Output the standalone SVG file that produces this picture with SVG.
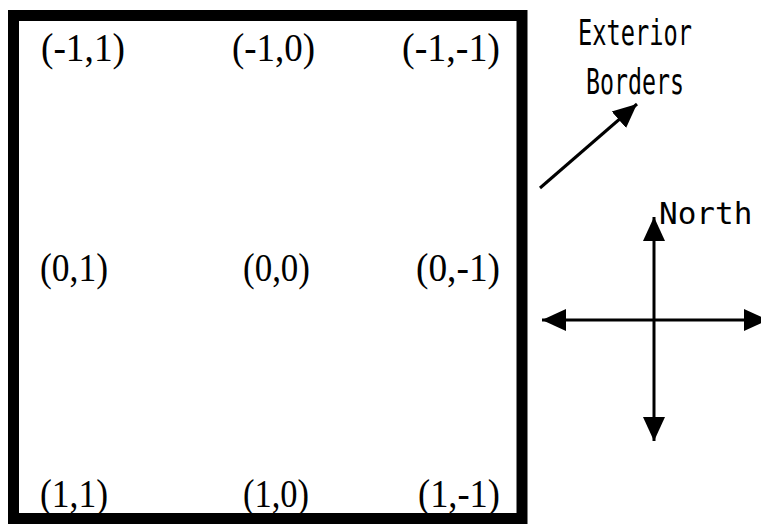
<svg xmlns="http://www.w3.org/2000/svg" width="761" height="527" viewBox="0 0 761 527">
<defs>
<marker id="ah" markerUnits="userSpaceOnUse" markerWidth="26" markerHeight="24" refX="24" refY="12" orient="auto">
<path d="M0,1 L24,12 L0,23 Z" fill="#000"/>
</marker>
</defs>
<style>
.coord{font-family:"Liberation Serif","Times New Roman",serif;font-size:40px;fill:#000}
.lbl{font-family:"DejaVu Sans Mono","Liberation Mono",monospace;font-size:35px;fill:#000}
.north{font-family:"DejaVu Sans Mono","Liberation Mono",monospace;font-size:31px;fill:#000}
.ln{stroke:#000;stroke-width:3;fill:none;marker-end:url(#ah)}
</style>
<rect width="761" height="527" fill="#fff"/>
<g id="border"><rect x="13.5" y="15.5" width="508.5" height="503" fill="none" stroke="#000" stroke-width="11"/></g>
<g id="n-1_1"><text class="coord" x="41" y="61" textLength="84" lengthAdjust="spacingAndGlyphs">(-1,1)</text></g>
<g id="n-1_0"><text class="coord" x="232" y="61" textLength="83" lengthAdjust="spacingAndGlyphs">(-1,0)</text></g>
<g id="n-1_-1"><text class="coord" x="402" y="61" textLength="98" lengthAdjust="spacingAndGlyphs">(-1,-1)</text></g>
<g id="n0_1"><text class="coord" x="40" y="281" textLength="68" lengthAdjust="spacingAndGlyphs">(0,1)</text></g>
<g id="n0_0"><text class="coord" x="243" y="281" textLength="67" lengthAdjust="spacingAndGlyphs">(0,0)</text></g>
<g id="n0_-1"><text class="coord" x="416" y="281" textLength="84" lengthAdjust="spacingAndGlyphs">(0,-1)</text></g>
<g id="n1_1"><text class="coord" x="40" y="507" textLength="68" lengthAdjust="spacingAndGlyphs">(1,1)</text></g>
<g id="n1_0"><text class="coord" x="243" y="507" textLength="66" lengthAdjust="spacingAndGlyphs">(1,0)</text></g>
<g id="n1_-1"><text class="coord" x="418" y="507" textLength="82" lengthAdjust="spacingAndGlyphs">(1,-1)</text></g>
<g id="exterior-label">
<text class="lbl" x="578" y="45" textLength="114" lengthAdjust="spacingAndGlyphs">Exterior</text>
<text class="lbl" x="586" y="94" textLength="98" lengthAdjust="spacingAndGlyphs">Borders</text>
</g>
<g id="north-label"><text class="north" x="659" y="224">North</text></g>
<g id="connectors">
<line class="ln" x1="540" y1="188" x2="637" y2="104"/>
<line class="ln" x1="654" y1="320" x2="654" y2="217"/>
<line class="ln" x1="654" y1="320" x2="654" y2="441"/>
<line class="ln" x1="654" y1="320" x2="542" y2="320"/>
<line class="ln" x1="654" y1="320" x2="768" y2="320"/>
</g>
</svg>
